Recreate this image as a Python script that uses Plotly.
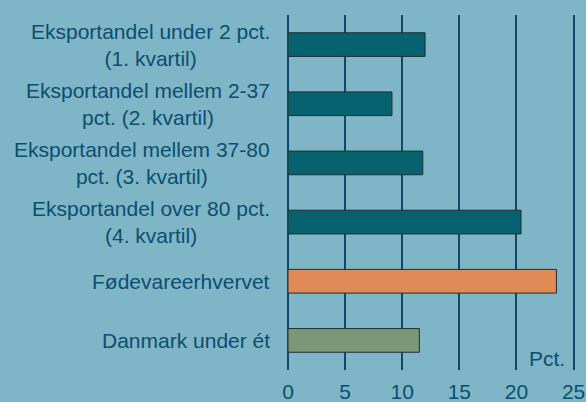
import plotly.graph_objects as go

categories = [
    "Eksportandel under 2 pct.<br>(1. kvartil)",
    "Eksportandel mellem 2-37<br>pct. (2. kvartil)",
    "Eksportandel mellem 37-80<br>pct. (3. kvartil)",
    "Eksportandel over 80 pct.<br>(4. kvartil)",
    "Fødevareerhvervet",
    "Danmark under ét",
]
values = [12.0, 9.1, 11.8, 20.4, 23.5, 11.5]
x_ticks = [0, 5, 10, 15, 20, 25]
unit_label = "Pct."

bar_colors = ["#06626e", "#06626e", "#06626e", "#06626e", "#e08a55", "#7b9777"]
bg = "#7eb5c7"
ink = "#0d4e6e"
grid = "#0e4a68"
font_family = "Liberation Sans, Arial, sans-serif"

fig = go.Figure()
fig.add_trace(go.Bar(
    x=values,
    y=list(range(len(categories))),
    orientation="h",
    width=0.4,
    marker=dict(color=bar_colors, line=dict(color="#1f2f33", width=1)),
    hoverinfo="skip",
))

for i, c in enumerate(categories):
    fig.add_annotation(
        x=0, xref="paper", y=i, yref="y",
        text=c, showarrow=False, xanchor="right", yanchor="middle",
        align="center", xshift=-16,
        font=dict(family=font_family, size=21, color=ink),
    )

fig.add_annotation(
    x=x_ticks[-1], xref="x", y=0, yref="paper", text=unit_label, showarrow=False,
    xanchor="right", yanchor="middle", xshift=-7, yshift=12,
    font=dict(family=font_family, size=21, color=ink),
)

fig.update_layout(
    width=586, height=402,
    margin=dict(l=288, r=1, t=15, b=32),
    paper_bgcolor=bg, plot_bgcolor=bg,
    showlegend=False,
    font=dict(family=font_family, size=21, color=ink),
)
fig.update_xaxes(
    range=[0, 26], tickvals=x_ticks, showgrid=True, gridcolor=grid,
    gridwidth=2, zeroline=True, zerolinecolor=grid, zerolinewidth=2,
    showline=False, ticks="", ticklabelstandoff=7, automargin=False,
    tickfont=dict(family=font_family, size=21, color=ink),
)
fig.update_yaxes(
    range=[5.5, -0.5], showticklabels=False, showgrid=False, zeroline=False,
    showline=False, ticks="", automargin=False,
)

fig.write_html(
    "out.html",
    config={"displayModeBar": False},
    post_script="document.body.style.margin='0';document.body.style.background='%s';" % bg,
)
